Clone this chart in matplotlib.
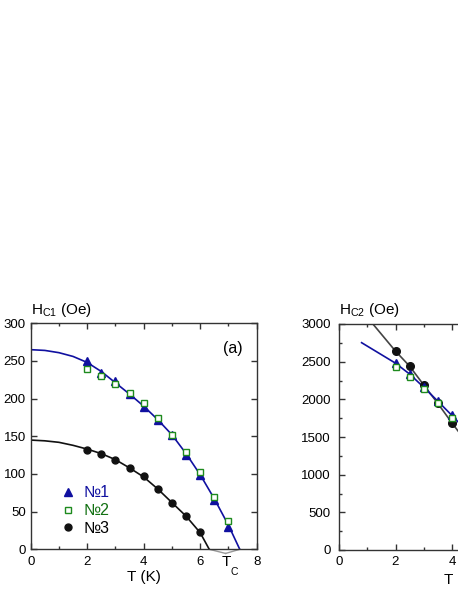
import matplotlib
matplotlib.use("Agg")
import matplotlib.pyplot as plt
from matplotlib.lines import Line2D

plt.rcParams['font.family'] = ['Liberation Sans', 'DejaVu Sans']
plt.rcParams['mathtext.default'] = 'regular'

# ---------------- data: panel (a) Hc1 ----------------
T_pts = [2, 2.5, 3, 3.5, 4, 4.5, 5, 5.5, 6, 6.5, 7]
hc1_n1 = [250, 234, 223, 206, 189, 171, 152, 125, 98, 65, 30]
hc1_n2 = [239, 230, 220, 207, 194, 174, 152, 129, 102, 70, 37]
T_n3 = [2, 2.5, 3, 3.5, 4, 4.5, 5, 5.5, 6]
hc1_n3 = [132, 127, 119, 108, 97, 80, 62, 44, 23]

# fit curves
fit1_T = [0, 0.5, 1, 1.5, 2, 2.5, 3, 3.5, 4, 4.5, 5, 5.5, 6, 6.5, 7, 7.4]
fit1_H = [265, 264, 261, 256, 248, 236, 221, 206, 190, 172, 152, 127, 99, 67, 32, 0]
fit3_T = [0, 0.5, 1, 1.5, 2, 2.5, 3, 3.5, 4, 4.5, 5, 5.5, 6, 6.32]
fit3_H = [145, 144, 142, 138, 133, 127, 119, 108, 96, 80, 62, 44, 22, 0]
Tc_vals = [6.32, 7.4]

# ---------------- data: panel (b) Hc2 ----------------
T2_pts = [2, 2.5, 3, 3.5, 4]
hc2_n1 = [2487, 2336, 2159, 1982, 1792]
hc2_n2 = [2434, 2297, 2133, 1956, 1748]
hc2_n3 = [2646, 2447, 2190, 1947, 1681]
line1_T = [0.8, 2, 2.5, 3, 3.5, 4, 4.5]
line1_H = [2752, 2480, 2335, 2160, 1975, 1785, 1590]
line3_T = [1.0, 1.2, 2, 2.5, 3, 3.5, 4, 4.5]
line3_H = [3100, 3000, 2640, 2440, 2190, 1945, 1685, 1440]

labels = ['№1', '№2', '№3']
c_blue = '#1010a0'
c_green = '#1e8a1e'
c_black = '#111111'
c_line3 = '#444444'
spine_c = '#333333'

fig = plt.figure(figsize=(4.58, 5.92), dpi=100)
axa = fig.add_axes([30.7/458, 42.7/592, 226/458, 226/592])
axb = fig.add_axes([339/458, 42/592, 226/458, 226/592])

def style(ax):
    for s in ax.spines.values():
        s.set_color(spine_c)
        s.set_linewidth(1.0)
    ax.tick_params(which='both', direction='in', top=True, right=True,
                   colors=spine_c, labelcolor='black', labelsize=9.5, width=1.0)
    ax.tick_params(which='major', length=4)
    ax.tick_params(which='minor', length=2.5)
    ax.tick_params(axis='x', pad=4.5)
    ax.tick_params(axis='y', pad=3.5)

# panel (a)
ax = axa
ax.plot(fit1_T, fit1_H, color=c_blue, lw=1.2, zorder=2)
ax.plot(fit3_T, fit3_H, color=c_black, lw=1.2, zorder=2)
ax.plot(T_pts, hc1_n1, ls='none', marker='^', ms=5.5, color=c_blue, zorder=3)
ax.plot(T_pts, hc1_n2, ls='none', marker='s', ms=4.5, mfc='white', mec=c_green, mew=1.0, zorder=4)
ax.plot(T_n3, hc1_n3, ls='none', marker='o', ms=5, color=c_black, zorder=3)
ax.set_xlim(0, 8)
ax.set_ylim(0, 300)
ax.set_xticks([0, 2, 4, 6, 8])
ax.set_xticks([1, 3, 5, 7], minor=True)
ax.set_yticks(range(0, 301, 50))
style(ax)
ax.set_xlabel('T (K)', fontsize=11, labelpad=1.5)
ax.text(0, 1.02, r'$H_{C1}$ (Oe)', transform=ax.transAxes, fontsize=11, ha='left', va='bottom')
ax.text(7.15, 266, '(a)', fontsize=11.5, ha='center', va='center')
vx, vy = 6.9, -5.5
for tc in Tc_vals:
    ax.plot([tc, vx], [0, vy], color='#999999', lw=1.0, clip_on=False, zorder=1)
ax.text(6.94, -7.5, 'T', fontsize=11, ha='center', va='top')
ax.text(7.21, -23, 'C', fontsize=7.5, ha='center', va='top')

handles = [
    Line2D([], [], ls='none', marker='^', ms=5.5, color=c_blue),
    Line2D([], [], ls='none', marker='s', ms=4.5, mfc='white', mec=c_green, mew=1.0),
    Line2D([], [], ls='none', marker='o', ms=5, color=c_black),
]
ax.legend(handles, labels, loc='lower left', bbox_to_anchor=(0.07, -0.005),
          frameon=False, fontsize=11.5, handlelength=0.9, handletextpad=0.5,
          labelspacing=0.18, labelcolor=[c_blue, '#117011', 'black'])

# panel (b)
ax = axb
ax.plot(line3_T, line3_H, color=c_line3, lw=1.2, zorder=2)
ax.plot(line1_T, line1_H, color=c_blue, lw=1.2, zorder=2)
ax.plot(T2_pts, hc2_n3, ls='none', marker='o', ms=5.5, color=c_black, zorder=3)
ax.plot(T2_pts, hc2_n1, ls='none', marker='^', ms=5.5, color=c_blue, zorder=3)
ax.plot(T2_pts, hc2_n2, ls='none', marker='s', ms=4.5, mfc='white', mec=c_green, mew=1.0, zorder=4)
ax.set_xlim(0, 8)
ax.set_ylim(0, 3000)
ax.set_xticks([0, 2, 4, 6, 8])
ax.set_xticks([1, 3, 5, 7], minor=True)
ax.set_yticks(range(0, 3001, 500))
ax.set_yticks(range(250, 3000, 500), minor=True)
style(ax)
ax.tick_params(axis='y', pad=6)
ax.set_xlabel('T (K)', fontsize=11, labelpad=1.5)
ax.xaxis.set_label_coords(0.54, -0.1)
ax.xaxis.label.set_va('top')
ax.text(0, 1.02, r'$H_{C2}$ (Oe)', transform=ax.transAxes, fontsize=11, ha='left', va='bottom')

fig.savefig('out.png', dpi=100)
